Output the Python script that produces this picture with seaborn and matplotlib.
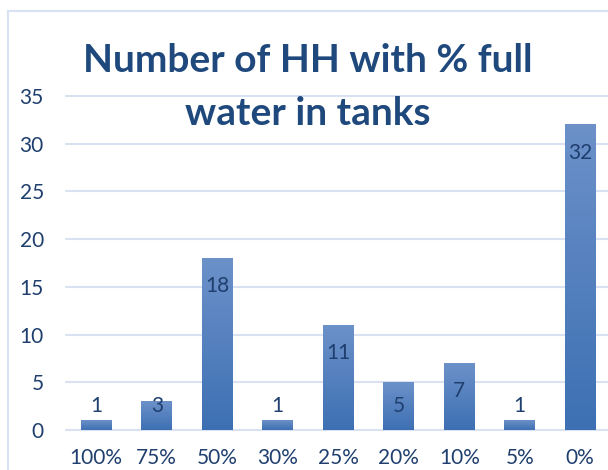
import numpy as np
import pandas as pd
import seaborn as sns
import matplotlib
matplotlib.use("Agg")
import matplotlib.pyplot as plt
from matplotlib.patches import Rectangle
from matplotlib.colors import LinearSegmentedColormap

# data
categories = ["100%", "75%", "50%", "30%", "25%", "20%", "10%", "5%", "0%"]
households = [1, 3, 18, 1, 11, 5, 7, 1, 32]
y_ticks = [0, 5, 10, 15, 20, 25, 30, 35]
chart_title = "Number of HH with % full\nwater in tanks"

df = pd.DataFrame({"level": categories, "count": households})

sns.set_theme(style="white")
plt.rcParams["font.family"] = ["Lato", "DejaVu Sans"]

navy = "#1F3F6E"
grid_col = "#D9E2F3"

fig = plt.figure(figsize=(6.08, 4.70), dpi=100)
ax = fig.add_axes([66 / 608, 40 / 470, 544.5 / 608, 334 / 470])

sns.barplot(data=df, x="level", y="count", ax=ax, width=0.51,
            color="#4A7CC0", saturation=1, edgecolor="none", zorder=2)

# vertical gradient fill on each bar, like the Excel original
grad = LinearSegmentedColormap.from_list("bar", ["#3D70B3", "#6C91C9"])
g = np.linspace(0, 1, 64).reshape(-1, 1)
for p in ax.patches:
    x0, y0, w, h = p.get_x(), p.get_y(), p.get_width(), p.get_height()
    ax.imshow(g, cmap=grad, origin="lower", aspect="auto",
              extent=[x0, x0 + w, y0, y0 + h], zorder=3)

# value labels (inside end, kept above the baseline for tiny bars)
for i, v in enumerate(households):
    ax.text(i, max(v - 2.93, 2.5), str(v), ha="center", va="center",
            fontsize=15, color=navy, zorder=4)

ax.set_xlim(-0.5, len(categories) - 0.5)
ax.set_ylim(0, 35)
ax.set_yticks(y_ticks)
ax.set_xlabel("")
ax.set_ylabel("")
ax.yaxis.grid(True, color=grid_col, lw=1.5)
for gl in ax.get_ygridlines():
    gl.set_clip_on(False)
ax.set_axisbelow(True)
sns.despine(ax=ax, left=True, bottom=True)
ax.tick_params(axis="y", length=0, pad=16, labelsize=15, labelcolor=navy)
ax.tick_params(axis="x", length=0, pad=13, labelsize=15, labelcolor=navy)

fig.text(308 / 608, 1 - 87 / 470, chart_title, ha="center", va="center",
         fontsize=28, fontweight="bold", color="#1F497D", linespacing=1.65)

# outer chart frame (cropped on the right and bottom)
fig.patches.append(Rectangle((8 / 608, -0.1), 1.2, 1.1 - 11 / 470,
                             transform=fig.transFigure, fill=False,
                             edgecolor=grid_col, lw=1.5))

fig.savefig("out.png", dpi=100)
